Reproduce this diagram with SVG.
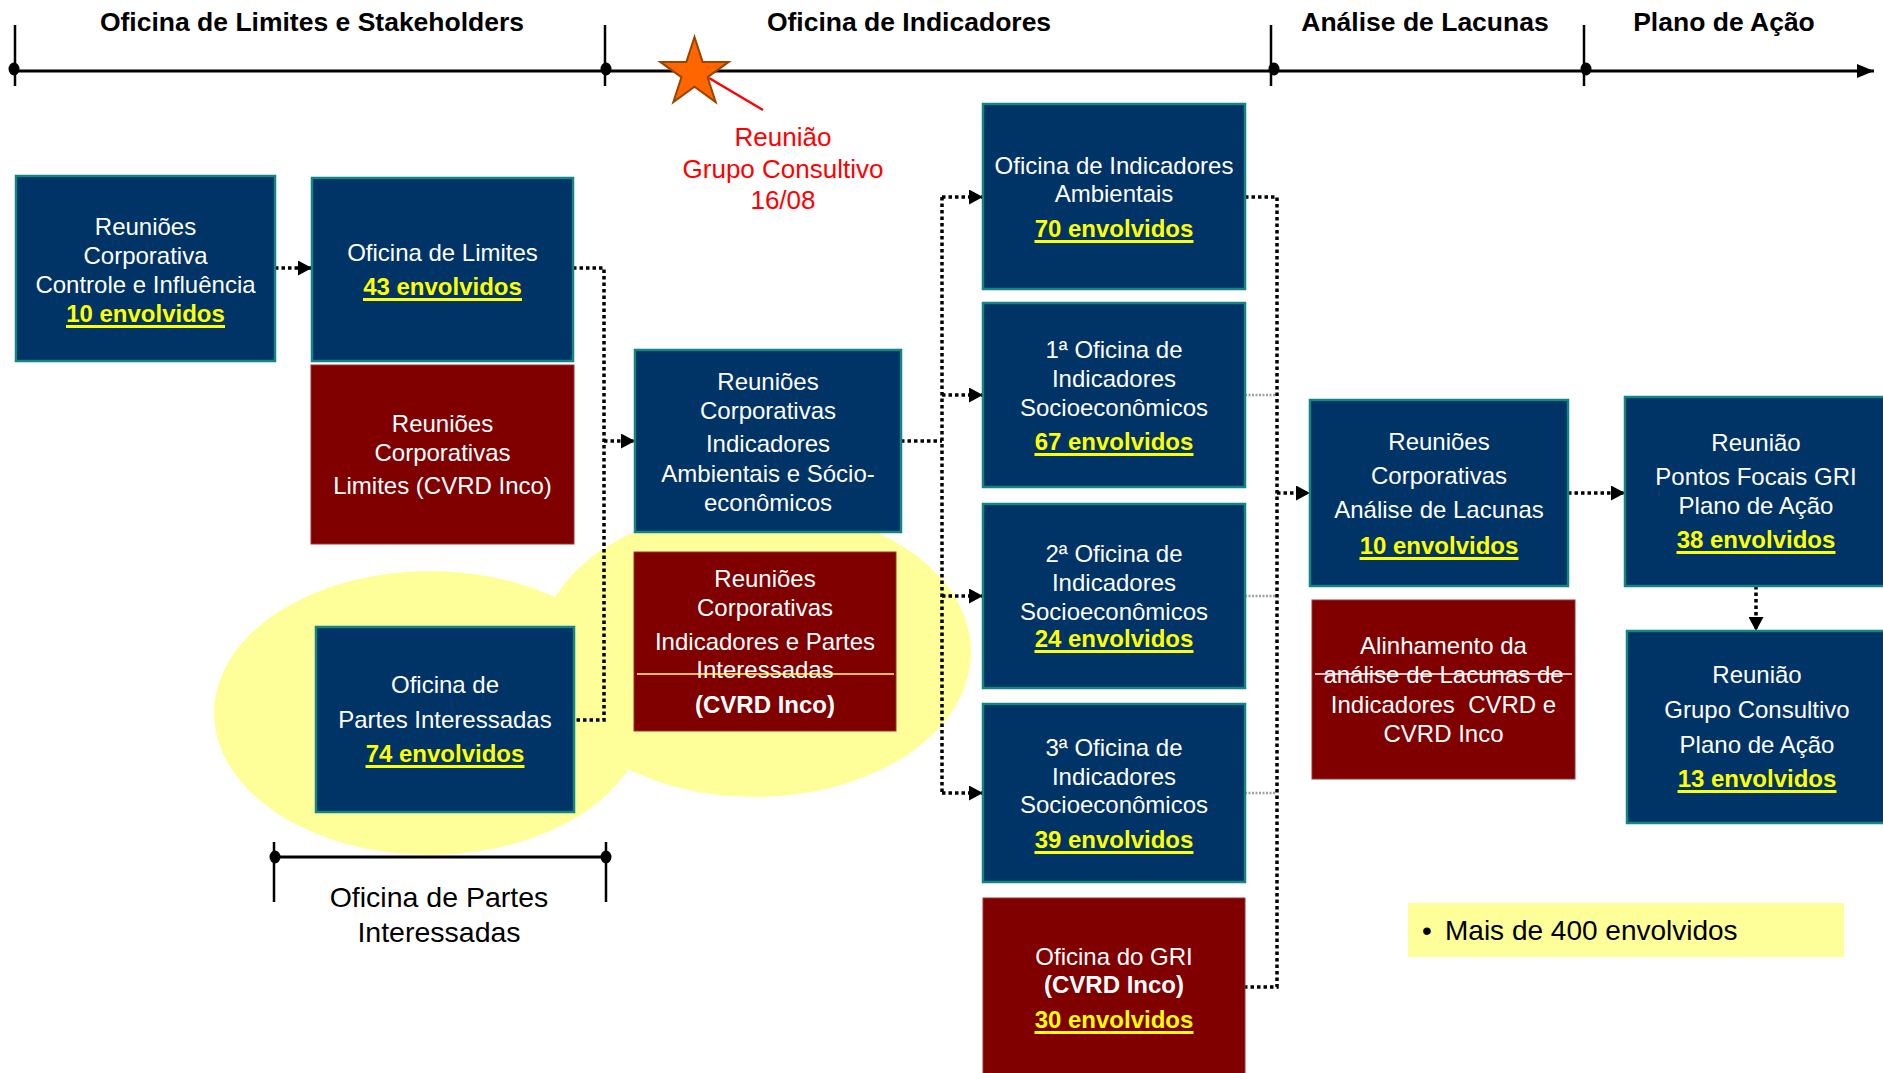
<svg xmlns="http://www.w3.org/2000/svg" width="1883" height="1073" viewBox="0 0 1883 1073">
<style>
text{font-family:"Liberation Sans",Arial,sans-serif}
.ph{font-size:26.5px;font-weight:bold;fill:#000;text-anchor:middle}
.bx{fill:#003366;stroke:#138585;stroke-width:2.5}
.rd{fill:#800000;stroke:#9A3535;stroke-width:1}
.t{font-size:24px;fill:#fff;text-anchor:middle}
.b{font-weight:bold}
.y{font-size:24px;font-weight:bold;fill:#FFFF00;text-anchor:middle}
.ul{stroke:#FFFF00;stroke-width:3}
.dot{fill:none;stroke:#000;stroke-width:3.5;stroke-dasharray:3.5 3}
.gd{fill:none;stroke:#A0A0A0;stroke-width:2.5;stroke-dasharray:2 1.5}
.tl{stroke:#000;stroke-width:3;fill:none}
.tk{stroke:#000;stroke-width:2.5}
</style>
<defs>
<marker id="arr" viewBox="0 0 14 15" refX="14" refY="7.5" markerWidth="14" markerHeight="15" markerUnits="userSpaceOnUse" orient="auto">
<path d="M0,0 L14,7.5 L0,15 z" fill="#000"/>
</marker>
<marker id="tarr" viewBox="0 0 17 14" refX="17" refY="7" markerWidth="17" markerHeight="14" markerUnits="userSpaceOnUse" orient="auto">
<path d="M0,0 L17,7 L0,14 z" fill="#000"/>
</marker>
</defs>
<rect x="0" y="0" width="1883" height="1073" fill="#fff"/>

<g id="timeline">
<line class="tl" x1="14" y1="71" x2="1874" y2="71" marker-end="url(#tarr)"/>
<line class="tk" x1="15" y1="25" x2="15" y2="86"/>
<line class="tk" x1="605" y1="25" x2="605" y2="86"/>
<line class="tk" x1="1271" y1="25" x2="1271" y2="86"/>
<line class="tk" x1="1584" y1="25" x2="1584" y2="86"/>
<ellipse cx="14" cy="69" rx="5.5" ry="6.5" fill="#000"/>
<ellipse cx="606" cy="69" rx="5.5" ry="6.5" fill="#000"/>
<ellipse cx="1274" cy="69" rx="5.5" ry="6.5" fill="#000"/>
<ellipse cx="1586" cy="69" rx="5.5" ry="6.5" fill="#000"/>
<text class="ph" x="312" y="31">Oficina de Limites e Stakeholders</text>
<text class="ph" x="909" y="31">Oficina de Indicadores</text>
<text class="ph" x="1425" y="31">Análise de Lacunas</text>
<text class="ph" x="1724" y="31">Plano de Ação</text>
</g>

<g id="marco-grupo-consultivo">
<line x1="709" y1="78" x2="763" y2="110" stroke="#FF0000" stroke-width="2.5"/>
<polygon points="694.5,37 702.58,61.88 728.74,61.88 707.58,77.25 715.66,102.12 694.5,86.75 673.34,102.12 681.42,77.25 660.26,61.88 686.42,61.88" fill="#FF6600" stroke="#994400" stroke-width="2"/>
<text x="783" y="146" font-size="26" fill="#FF0000" text-anchor="middle">Reunião</text>
<text x="783" y="178" font-size="26" fill="#FF0000" text-anchor="middle">Grupo Consultivo</text>
<text x="783" y="209" font-size="26" fill="#FF0000" text-anchor="middle">16/08</text>
</g>

<g id="destaque-partes-interessadas">
<ellipse cx="430" cy="713" rx="216" ry="142" fill="#FFFF99"/>
<ellipse cx="755" cy="652" rx="216" ry="145" fill="#FFFF99"/>
</g>

<g id="connectors">
<path class="dot" d="M275,268 H312" marker-end="url(#arr)"/>
<path class="dot" d="M573,268 H604 V720 H574"/>
<path class="dot" d="M604,441 H635" marker-end="url(#arr)"/>
<path class="dot" d="M901,441 H942"/>
<path class="dot" d="M942,197 V793"/>
<path class="dot" d="M942,197 H983" marker-end="url(#arr)"/>
<path class="dot" d="M942,395 H983" marker-end="url(#arr)"/>
<path class="dot" d="M942,596 H983" marker-end="url(#arr)"/>
<path class="dot" d="M942,793 H983" marker-end="url(#arr)"/>
<path class="dot" d="M1245,197 H1277 V987 H1245"/>
<path class="gd" d="M1245,395 H1276"/>
<path class="gd" d="M1245,596 H1276"/>
<path class="gd" d="M1245,793 H1276"/>
<path class="dot" d="M1277,493 H1310" marker-end="url(#arr)"/>
<path class="dot" d="M1568,493 H1625" marker-end="url(#arr)"/>
<path class="dot" d="M1756,586 V631" marker-end="url(#arr)"/>
</g>

<g id="n-controle-influencia">
<rect class="bx" x="16" y="176" width="259" height="185"/>
<text class="t" x="145.5" y="235">Reuniões</text>
<text class="t" x="145.5" y="264">Corporativa</text>
<text class="t" x="145.5" y="293">Controle e Influência</text>
<text class="y" x="145.5" y="322">10 envolvidos</text>
<line class="ul" x1="66" y1="326.5" x2="225" y2="326.5"/>
</g>

<g id="n-oficina-limites">
<rect class="bx" x="312" y="178" width="261" height="183"/>
<text class="t" x="442.5" y="261">Oficina de Limites</text>
<text class="y" x="442.5" y="295">43 envolvidos</text>
<line class="ul" x1="363" y1="299.5" x2="522" y2="299.5"/>
</g>

<g id="n-limites-cvrd-inco">
<rect class="rd" x="311" y="365" width="263" height="179"/>
<text class="t" x="442.5" y="432">Reuniões</text>
<text class="t" x="442.5" y="461">Corporativas</text>
<text class="t" x="442.5" y="494">Limites (CVRD Inco)</text>
</g>

<g id="n-indicadores-amb-socio">
<rect class="bx" x="635" y="350" width="266" height="182"/>
<text class="t" x="768" y="390">Reuniões</text>
<text class="t" x="768" y="419">Corporativas</text>
<text class="t" x="768" y="452">Indicadores</text>
<text class="t" x="768" y="482">Ambientais e Sócio-</text>
<text class="t" x="768" y="511">econômicos</text>
</g>

<g id="n-indicadores-partes-cvrd-inco">
<rect class="rd" x="634" y="552" width="262" height="179"/>
<text class="t" x="765" y="587">Reuniões</text>
<text class="t" x="765" y="616">Corporativas</text>
<text class="t" x="765" y="650">Indicadores e Partes</text>
<text class="t" x="765" y="678">Interessadas</text>
<line x1="637" y1="674" x2="894" y2="674" stroke="#FFFF66" stroke-width="1.5"/>
<text class="t b" x="765" y="713">(CVRD Inco)</text>
</g>

<g id="n-oficina-partes">
<rect class="bx" x="316" y="627" width="258" height="185"/>
<text class="t" x="445" y="693">Oficina de</text>
<text class="t" x="445" y="728">Partes Interessadas</text>
<text class="y" x="445" y="762">74 envolvidos</text>
<line class="ul" x1="365.5" y1="766.5" x2="524.5" y2="766.5"/>
</g>

<g id="periodo-partes-interessadas">
<line class="tl" x1="274" y1="857" x2="606" y2="857"/>
<line class="tk" x1="274" y1="842" x2="274" y2="902"/>
<line class="tk" x1="606" y1="842" x2="606" y2="902"/>
<ellipse cx="275" cy="857" rx="5.5" ry="6.5" fill="#000"/>
<ellipse cx="606" cy="857" rx="5.5" ry="6.5" fill="#000"/>
<text x="439" y="907" font-size="28.5" fill="#000" text-anchor="middle">Oficina de Partes</text>
<text x="439" y="942" font-size="28.5" fill="#000" text-anchor="middle">Interessadas</text>
</g>

<g id="n-indicadores-ambientais">
<rect class="bx" x="983" y="104" width="262" height="185"/>
<text class="t" x="1114" y="174">Oficina de Indicadores</text>
<text class="t" x="1114" y="202">Ambientais</text>
<text class="y" x="1114" y="237">70 envolvidos</text>
<line class="ul" x1="1034.5" y1="241.5" x2="1193.5" y2="241.5"/>
</g>

<g id="n-socio-1">
<rect class="bx" x="983" y="303" width="262" height="184"/>
<text class="t" x="1114" y="358">1ª Oficina de</text>
<text class="t" x="1114" y="387">Indicadores</text>
<text class="t" x="1114" y="416">Socioeconômicos</text>
<text class="y" x="1114" y="450">67 envolvidos</text>
<line class="ul" x1="1034.5" y1="454.5" x2="1193.5" y2="454.5"/>
</g>

<g id="n-socio-2">
<rect class="bx" x="983" y="504" width="262" height="184"/>
<text class="t" x="1114" y="562">2ª Oficina de</text>
<text class="t" x="1114" y="591">Indicadores</text>
<text class="t" x="1114" y="620">Socioeconômicos</text>
<text class="y" x="1114" y="647">24 envolvidos</text>
<line class="ul" x1="1034.5" y1="651.5" x2="1193.5" y2="651.5"/>
</g>

<g id="n-socio-3">
<rect class="bx" x="983" y="704" width="262" height="178"/>
<text class="t" x="1114" y="756">3ª Oficina de</text>
<text class="t" x="1114" y="785">Indicadores</text>
<text class="t" x="1114" y="813">Socioeconômicos</text>
<text class="y" x="1114" y="848">39 envolvidos</text>
<line class="ul" x1="1034.5" y1="852.5" x2="1193.5" y2="852.5"/>
</g>

<g id="n-oficina-gri">
<rect class="rd" x="983" y="898" width="262" height="185"/>
<text class="t" x="1114" y="965">Oficina do GRI</text>
<text class="t b" x="1114" y="993">(CVRD Inco)</text>
<text class="y" x="1114" y="1028">30 envolvidos</text>
<line class="ul" x1="1034.5" y1="1032.5" x2="1193.5" y2="1032.5"/>
</g>

<g id="n-analise-lacunas">
<rect class="bx" x="1310" y="400" width="258" height="186"/>
<text class="t" x="1439" y="450">Reuniões</text>
<text class="t" x="1439" y="484">Corporativas</text>
<text class="t" x="1439" y="518">Análise de Lacunas</text>
<text class="y" x="1439" y="554">10 envolvidos</text>
<line class="ul" x1="1359.5" y1="558.5" x2="1518.5" y2="558.5"/>
</g>

<g id="n-alinhamento">
<rect class="rd" x="1312" y="600" width="263" height="179"/>
<text class="t" x="1443.5" y="654">Alinhamento da</text>
<text class="t" x="1443.5" y="683">análise de Lacunas de</text>
<line x1="1315" y1="674" x2="1572" y2="674" stroke="#fff" stroke-width="1.5"/>
<text class="t" x="1443.5" y="713">Indicadores&#160; CVRD e</text>
<text class="t" x="1443.5" y="742">CVRD Inco</text>
</g>

<g id="n-pontos-focais">
<rect class="bx" x="1625" y="397" width="264" height="189"/>
<text class="t" x="1756" y="451">Reunião</text>
<text class="t" x="1756" y="485">Pontos Focais GRI</text>
<text class="t" x="1756" y="514">Plano de Ação</text>
<text class="y" x="1756" y="548">38 envolvidos</text>
<line class="ul" x1="1676.5" y1="552.5" x2="1835.5" y2="552.5"/>
</g>

<g id="n-grupo-consultivo-plano">
<rect class="bx" x="1627" y="631" width="262" height="192"/>
<text class="t" x="1757" y="683">Reunião</text>
<text class="t" x="1757" y="718">Grupo Consultivo</text>
<text class="t" x="1757" y="753">Plano de Ação</text>
<text class="y" x="1757" y="787">13 envolvidos</text>
<line class="ul" x1="1677.5" y1="791.5" x2="1836.5" y2="791.5"/>
</g>

<g id="total-envolvidos">
<rect x="1408" y="903" width="436" height="54" fill="#FFFF99"/>
<text x="1422" y="940" font-size="28" fill="#000">•</text>
<text x="1445" y="940" font-size="28" fill="#000">Mais de 400 envolvidos</text>
</g>
</svg>
